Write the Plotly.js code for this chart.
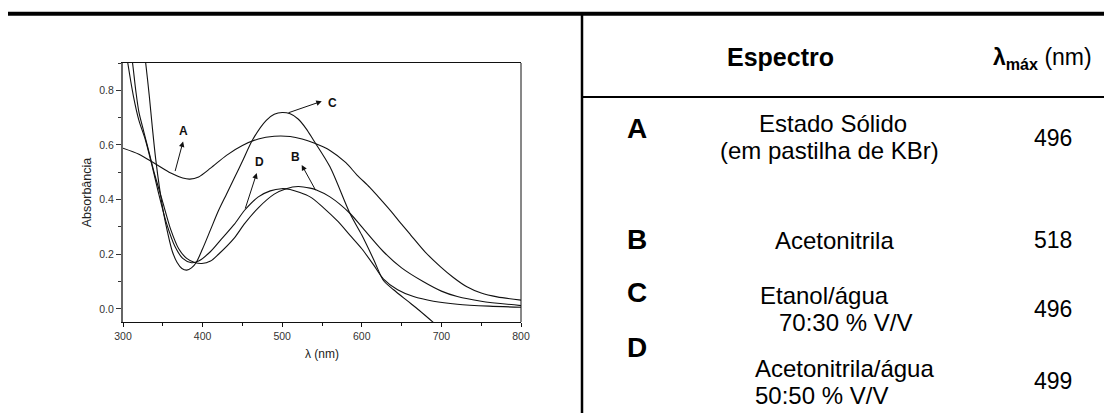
<!DOCTYPE html>
<html><head><meta charset="utf-8">
<script src="https://cdn.plot.ly/plotly-3.0.1.min.js"></script>
<style>html,body{margin:0;padding:0;background:#fff}#chart{width:1104px;height:413px}</style>
</head><body><div id="chart"></div>
<script>
// ---------- chart data ----------
const specA_x = [300, 320, 340, 360, 375, 384, 395, 410, 430, 450, 470, 490, 510, 525, 540, 560, 580, 594, 610, 620, 636, 650, 661, 680, 699, 715, 732, 750, 770, 800];
const specA_y = [0.588, 0.566, 0.532, 0.497, 0.479, 0.475, 0.483, 0.515, 0.562, 0.598, 0.622, 0.632, 0.631, 0.622, 0.607, 0.58, 0.535, 0.49, 0.445, 0.413, 0.36, 0.31, 0.272, 0.207, 0.154, 0.115, 0.081, 0.058, 0.044, 0.032];

const specB_x = [307, 312, 316, 320, 326, 333, 340, 350, 360, 370, 380, 390, 399, 410, 420, 440, 453, 470, 490, 505, 520, 535, 543, 560, 585, 600, 627, 650, 677, 700, 720, 750, 800];
const specB_y = [1.0, 0.9, 0.8, 0.72, 0.65, 0.57, 0.49, 0.39, 0.29, 0.22, 0.185, 0.17, 0.166, 0.175, 0.2, 0.26, 0.313, 0.37, 0.42, 0.44, 0.448, 0.442, 0.435, 0.41, 0.35, 0.30, 0.21, 0.15, 0.10, 0.065, 0.045, 0.028, 0.012];

const specC_x = [324, 328.5, 333, 337, 341, 346, 351, 356, 362, 368, 374, 380, 386, 392, 400, 410, 420, 430, 440, 450, 463, 480, 490, 500, 510, 520, 530, 539, 560, 585, 600, 615, 627, 640, 657, 672, 690];
const specC_y = [1.0, 0.9, 0.78, 0.66, 0.55, 0.44, 0.35, 0.28, 0.21, 0.17, 0.148, 0.142, 0.15, 0.17, 0.22, 0.29, 0.36, 0.42, 0.48, 0.54, 0.62, 0.69, 0.712, 0.719, 0.714, 0.695, 0.66, 0.619, 0.52, 0.35, 0.27, 0.18, 0.105, 0.07, 0.03, -0.005, -0.05];

const specD_x = [301, 306, 313, 320, 328, 336, 345, 355, 365, 375, 386, 395, 410, 425, 440, 453, 470, 485, 499, 510, 535, 552, 570, 585, 600, 615, 627, 645, 665, 690, 720, 760, 800];
const specD_y = [1.0, 0.9, 0.78, 0.69, 0.62, 0.53, 0.42, 0.31, 0.23, 0.185, 0.169, 0.175, 0.21, 0.26, 0.31, 0.362, 0.41, 0.432, 0.44, 0.437, 0.41, 0.37, 0.32, 0.27, 0.22, 0.16, 0.11, 0.07, 0.045, 0.028, 0.017, 0.01, 0.006];

// arrow labels
const curveLabels = ['A', 'B', 'C', 'D'];
const labelTailX = [365, 543, 506, 453];
const labelTailY = [0.499, 0.429, 0.716, 0.362];
const labelHeadX = [375.5, 524.5, 549.7, 468];
const labelHeadY = [0.613, 0.527, 0.76, 0.497];
const labelTextX = [376.5, 517.3, 563, 472];
const labelTextY = [0.652, 0.555, 0.754, 0.539];

const xTickVals = [300, 400, 500, 600, 700, 800];
const yTickVals = [0.0, 0.2, 0.4, 0.6, 0.8];

// table contents
const tableHeaderSpectrum = 'Espectro';
const tableHeaderLambda = '<b>λ<sub>máx</sub></b> (nm)';
const rowLetters = ['A', 'B', 'C', 'D'];
const solventLine1 = ['Estado Sólido', 'Acetonitrila', 'Etanol/água', 'Acetonitrila/água'];
const solventLine2 = ['(em pastilha de KBr)', '', '70:30 % V/V', '50:50 % V/V'];
const lambdaMax = [496, 518, 496, 499];

// ---------- layout geometry ----------
const L = 123, T = 63, W = 398, H = 259;
const R = 1104 - L - W, B = 413 - T - H;
function px(x) { return (x - L) / W; }
function py(y) { return (T + H - y) / H; }

const FONT = '"Liberation Sans", Arial, Helvetica, sans-serif';
const lineStyle = {color: '#111', width: 1.1, shape: 'spline', smoothing: 0.8};

const traces = [
  {x: specA_x, y: specA_y, mode: 'lines', line: lineStyle, name: 'A'},
  {x: specB_x, y: specB_y, mode: 'lines', line: lineStyle, name: 'B'},
  {x: specC_x, y: specC_y, mode: 'lines', line: lineStyle, name: 'C'},
  {x: specD_x, y: specD_y, mode: 'lines', line: lineStyle, name: 'D'}
];

const annotations = [];
for (let i = 0; i < curveLabels.length; i++) {
  annotations.push({
    x: labelHeadX[i], y: labelHeadY[i], xref: 'x', yref: 'y',
    ax: labelTailX[i], ay: labelTailY[i], axref: 'x', ayref: 'y',
    text: '', showarrow: true, arrowhead: 2, arrowsize: 1.1, arrowwidth: 1, arrowcolor: '#111'
  });
  annotations.push({
    x: labelTextX[i], y: labelTextY[i], xref: 'x', yref: 'y',
    text: '<b>' + curveLabels[i] + '</b>', showarrow: false,
    font: {family: FONT, size: 12, color: '#111'}, xanchor: 'center', yanchor: 'middle'
  });
}

// table text
annotations.push({x: px(780), y: py(57), xref: 'paper', yref: 'paper', text: '<b>' + tableHeaderSpectrum + '</b>',
  showarrow: false, xanchor: 'center', yanchor: 'middle', font: {family: FONT, size: 25, color: '#000'}});
annotations.push({x: px(991), y: py(58), xref: 'paper', yref: 'paper', text: tableHeaderLambda,
  showarrow: false, xanchor: 'left', yanchor: 'middle', font: {family: FONT, size: 23, color: '#000'}});

const rowLetterY = [128, 239, 292, 347];
const line1Left = [757, 773, 758, 753];
const line1Y = [123, 240, 295, 368];
const line2Left = [718, 0, 777, 753];
const line2Y = [150, 0, 322, 395];
const valueY = [138, 240, 309, 381];
for (let i = 0; i < rowLetters.length; i++) {
  annotations.push({x: px(637), y: py(rowLetterY[i]), xref: 'paper', yref: 'paper', text: '<b>' + rowLetters[i] + '</b>',
    showarrow: false, xanchor: 'center', yanchor: 'middle', font: {family: FONT, size: 28, color: '#000'}});
  annotations.push({x: px(line1Left[i]), y: py(line1Y[i]), xref: 'paper', yref: 'paper', text: solventLine1[i],
    showarrow: false, xanchor: 'left', yanchor: 'middle', font: {family: FONT, size: 24, color: '#000'}});
  if (solventLine2[i]) {
    annotations.push({x: px(line2Left[i]), y: py(line2Y[i]), xref: 'paper', yref: 'paper', text: solventLine2[i],
      showarrow: false, xanchor: 'left', yanchor: 'middle', font: {family: FONT, size: 24, color: '#000'}});
  }
  annotations.push({x: px(1053), y: py(valueY[i]), xref: 'paper', yref: 'paper', text: String(lambdaMax[i]),
    showarrow: false, xanchor: 'center', yanchor: 'middle', font: {family: FONT, size: 23, color: '#000'}});
}

const shapes = [
  {type: 'line', xref: 'paper', yref: 'paper', x0: px(8), x1: px(1104), y0: py(13.8), y1: py(13.8), line: {color: '#000', width: 4}},
  {type: 'line', xref: 'paper', yref: 'paper', x0: px(582), x1: px(582), y0: py(15), y1: py(413), line: {color: '#000', width: 2.5}},
  {type: 'line', xref: 'paper', yref: 'paper', x0: px(582), x1: px(1104), y0: py(97), y1: py(97), line: {color: '#000', width: 2.2}},
  {type: 'line', xref: 'paper', yref: 'paper', x0: 1, x1: 1, y0: 0, y1: 1, line: {color: '#111', width: 1}}
];

const layout = {
  width: 1104, height: 413,
  margin: {l: L, r: R, t: T, b: B, pad: 0},
  paper_bgcolor: '#fff', plot_bgcolor: '#fff',
  showlegend: false,
  font: {family: FONT, color: '#222'},
  xaxis: {
    range: [300, 800], tickvals: xTickVals, ticks: 'outside', ticklen: 4, tickwidth: 1, tickcolor: '#111',
    minor: {dtick: 50, tick0: 300, ticks: 'outside', ticklen: 3, tickcolor: '#111', showgrid: false},
    showline: true, linecolor: '#111', linewidth: 1, mirror: true, showgrid: false, zeroline: false,
    tickfont: {family: FONT, size: 10.5, color: '#333'},
    title: {text: 'λ (nm)', font: {family: FONT, size: 12, color: '#222'}, standoff: 9}
  },
  yaxis: {
    range: [-0.048, 0.90], tickvals: yTickVals, tickformat: '.1f', ticks: 'outside', ticklen: 5, tickwidth: 1, tickcolor: '#333',
    minor: {dtick: 0.1, tick0: 0, ticks: 'outside', ticklen: 3, tickcolor: '#333', showgrid: false},
    showline: true, linecolor: '#666', linewidth: 2, mirror: false, showgrid: false, zeroline: false,
    tickfont: {family: FONT, size: 10.5, color: '#333'},
    title: {text: 'Absorbância', font: {family: FONT, size: 12.5, color: '#222'}, standoff: 5}
  },
  annotations: annotations,
  shapes: shapes
};

Plotly.newPlot('chart', traces, layout, {staticPlot: true, displayModeBar: false});
</script></body></html>
